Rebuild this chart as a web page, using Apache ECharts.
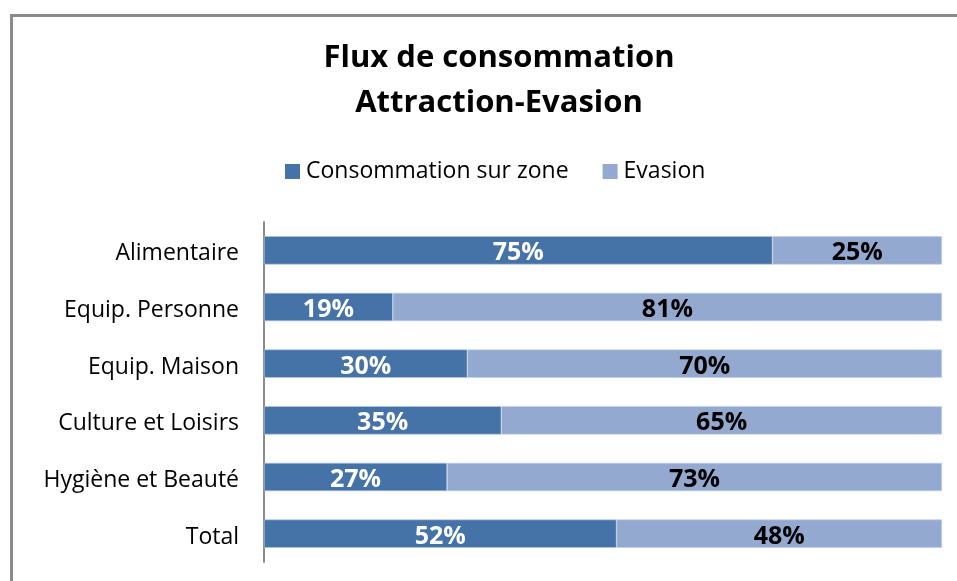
<!DOCTYPE html>
<html>
<head>
<meta charset="utf-8">
<script src="https://cdn.jsdelivr.net/npm/echarts@6.0.0/dist/echarts.min.js"></script>
<style>
  html, body { margin: 0; padding: 0; background: #fff; }
  #chart { width: 957px; height: 581px; }
</style>
</head>
<body>
<div id="chart"></div>
<script>
// Données du graphique
const categories = ['Alimentaire', 'Equip. Personne', 'Equip. Maison', 'Culture et Loisirs', 'Hygiène et Beauté', 'Total'];
const consommation = [75, 19, 30, 35, 27, 52];
const evasion = [25, 81, 70, 65, 73, 48];

const FONT = '"Open Sans", "Liberation Sans", sans-serif';

const chart = echarts.init(document.getElementById('chart'));

chart.setOption({
    animation: false,
    textStyle: { fontFamily: FONT },
    title: {
        text: 'Flux de consommation\nAttraction-Evasion',
        left: 494,
        textAlign: 'center',
        top: 31,
        textStyle: {
            fontFamily: FONT,
            fontSize: 31,
            fontWeight: 'bold',
            color: '#000',
            lineHeight: 45
        }
    },
    legend: {
        top: 155,
        left: 280,
        itemWidth: 15,
        itemHeight: 15,
        itemGap: 34,
        icon: 'rect',
        itemStyle: { borderWidth: 0 },
        textStyle: { fontFamily: FONT, fontSize: 23, color: '#000', padding: [0, 0, 0, 1] },
        data: ['Consommation sur zone', 'Evasion']
    },
    grid: { left: 264, right: 15, top: 222, bottom: 19, containLabel: false },
    xAxis: {
        type: 'value',
        min: 0,
        max: 100,
        show: false
    },
    yAxis: {
        type: 'category',
        inverse: true,
        data: categories,
        axisLine: { show: true, lineStyle: { color: '#8c8c8c', width: 2 } },
        axisTick: { show: false },
        axisLabel: {
            margin: 25,
            formatter: '{a|{value}}',
            rich: {
                a: { fontFamily: FONT, fontSize: 23, color: '#000', padding: [7, 0, 0, 0] }
            }
        }
    },
    series: [
        {
            name: 'Consommation sur zone',
            type: 'bar',
            stack: 'flux',
            barCategoryGap: '50%',
            data: consommation,
            itemStyle: { color: '#4572a7', borderColor: '#b9c9e0', borderWidth: 0.6 },
            label: {
                show: true,
                position: 'inside',
                offset: [0, 3],
                formatter: '{c}%',
                fontFamily: FONT,
                fontSize: 25,
                fontWeight: 'bold',
                color: '#fff'
            }
        },
        {
            name: 'Evasion',
            type: 'bar',
            stack: 'flux',
            data: evasion,
            itemStyle: { color: '#94a9d0', borderColor: '#c3d0e6', borderWidth: 0.6 },
            label: {
                show: true,
                position: 'inside',
                offset: [0, 3],
                formatter: '{c}%',
                fontFamily: FONT,
                fontSize: 25,
                fontWeight: 'bold',
                color: '#000'
            }
        }
    ],
    graphic: [
        {
            type: 'rect',
            shape: { x: 11.5, y: 15.5, width: 1200, height: 1200 },
            style: { fill: 'none', stroke: '#8c8c8c', lineWidth: 3 },
            silent: true
        }
    ]
});
</script>
</body>
</html>
